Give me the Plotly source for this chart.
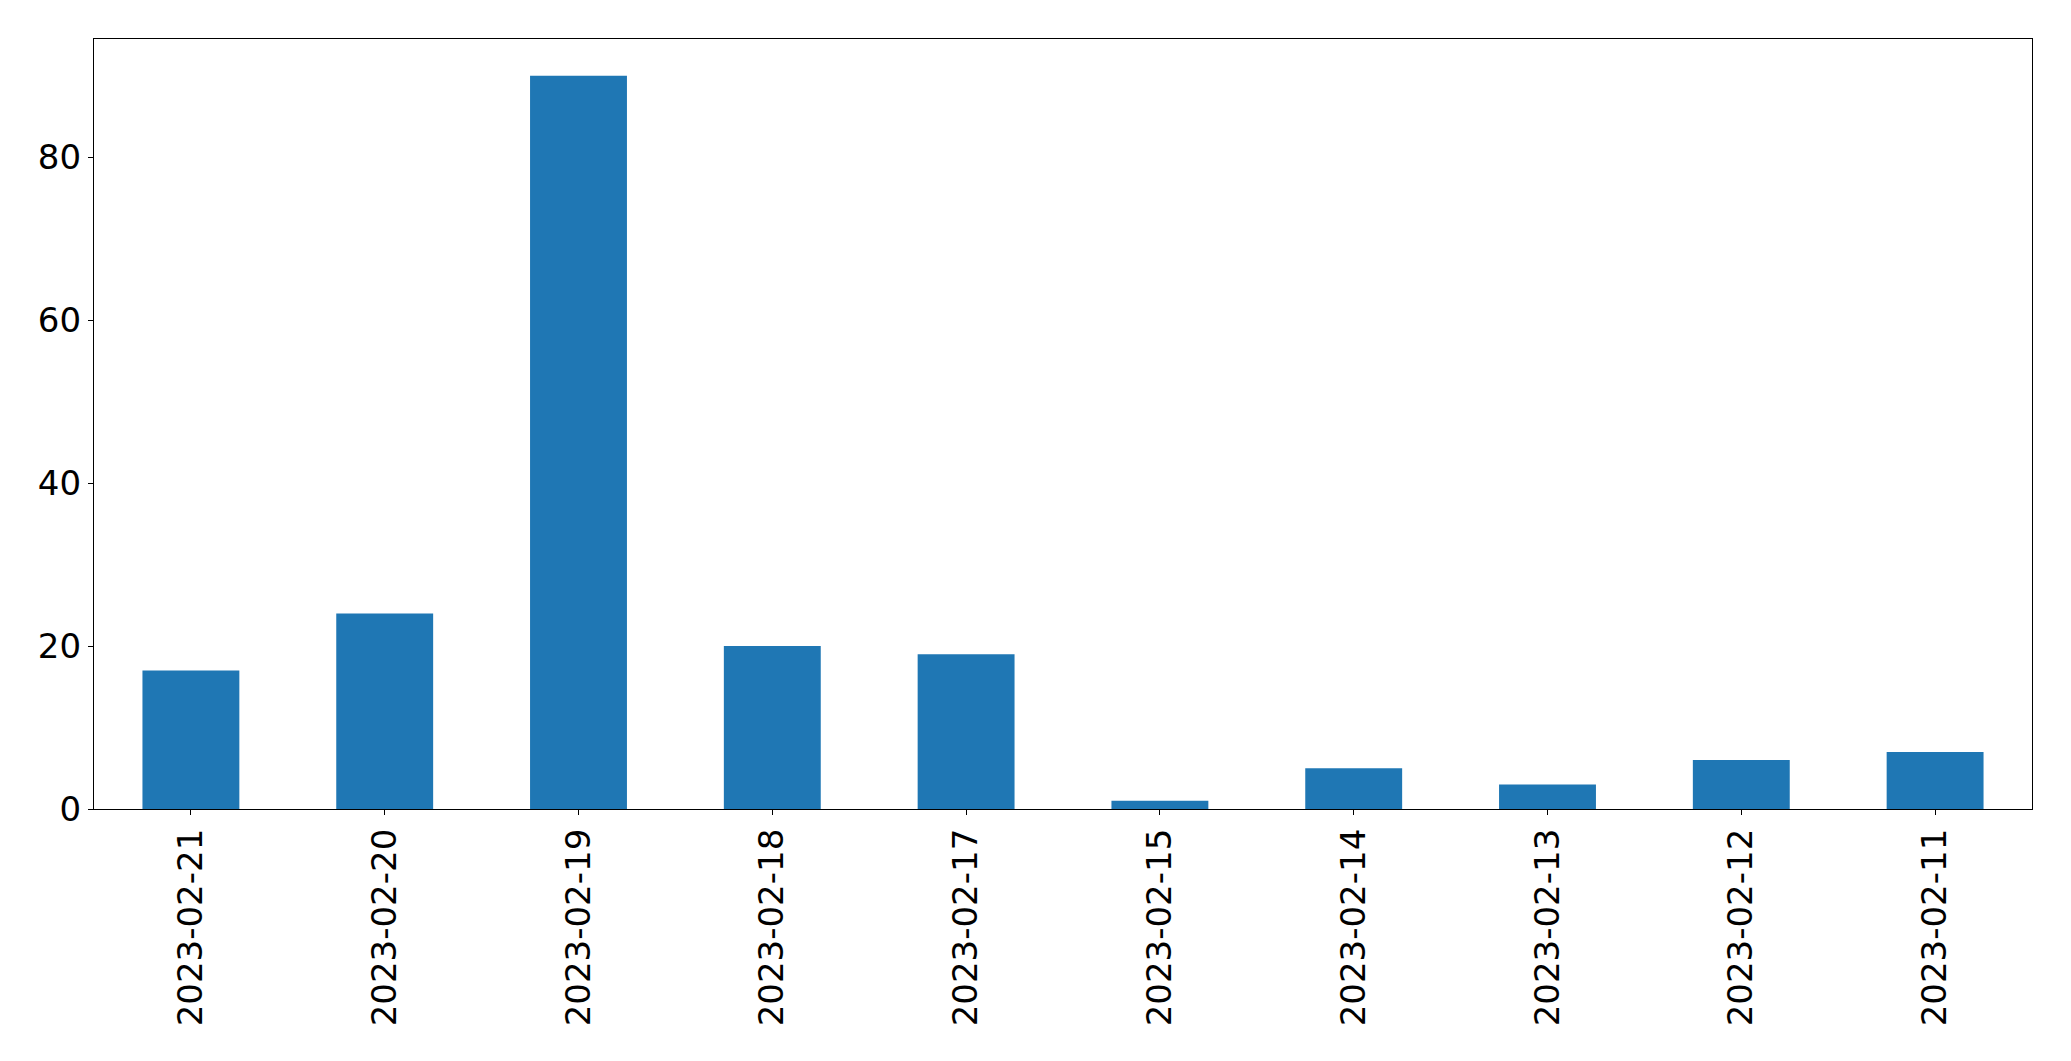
import plotly.graph_objects as go

dates = ["2023-02-21", "2023-02-20", "2023-02-19", "2023-02-18", "2023-02-17",
         "2023-02-15", "2023-02-14", "2023-02-13", "2023-02-12", "2023-02-11"]
counts = [17, 24, 90, 20, 19, 1, 5, 3, 6, 7]
y_ticks = [0, 20, 40, 60, 80]

fig = go.Figure(go.Bar(x=dates, y=counts, width=0.5, marker=dict(color="#1f77b4", line=dict(width=0))))

font = dict(family="DejaVu Sans", size=34, color="black")
fig.update_layout(
    width=2063, height=1053,
    margin=dict(l=86, r=39, t=31, b=252),
    plot_bgcolor="white", paper_bgcolor="white",
    showlegend=False,
    font=font,
)
fig.update_xaxes(type="category", range=[-0.5, 9.5], tickangle=-90,
                 showline=True, linecolor="black", linewidth=1.3, mirror=True,
                 ticks="outside", ticklen=5, tickcolor="black", tickwidth=1.3,
                 showgrid=False, tickfont=font)
fig.update_yaxes(range=[0, 94.5], tickvals=y_ticks,
                 showline=True, linecolor="black", linewidth=1.3, mirror=True,
                 ticks="outside", ticklen=5, tickcolor="black", tickwidth=1.3,
                 showgrid=False, zeroline=False, tickfont=font)

fig.write_html("out.html")
